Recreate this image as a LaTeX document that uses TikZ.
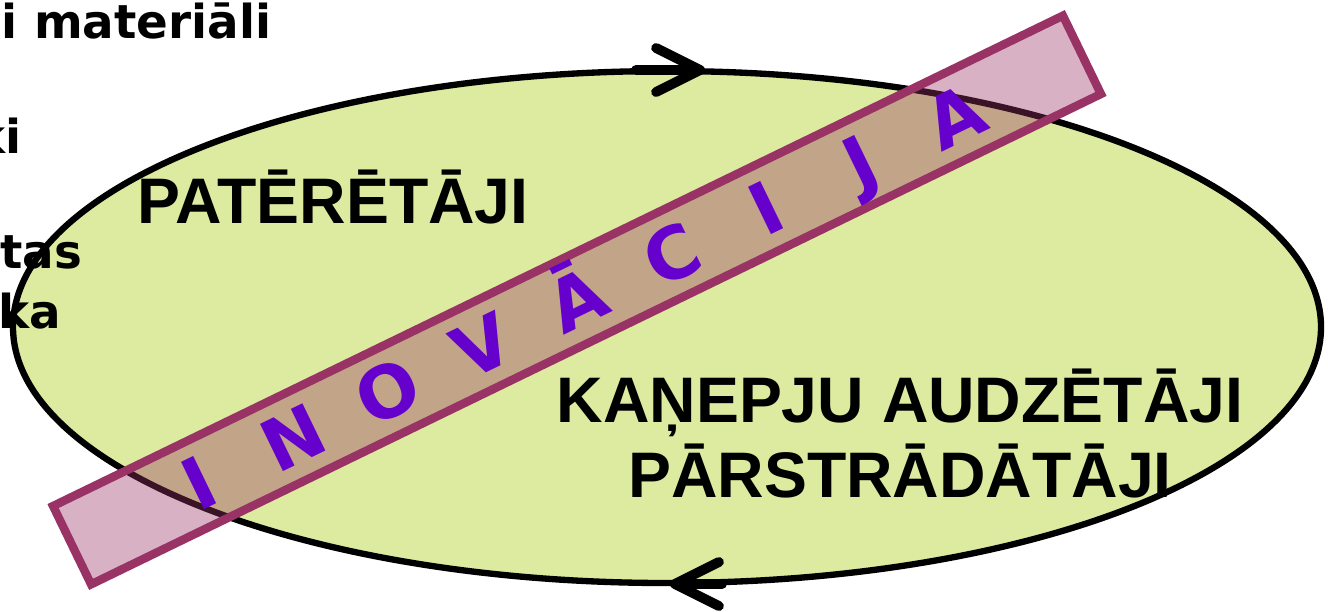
\documentclass[tikz,border=0pt]{standalone}
\usepackage{fontspec}
\setmainfont{Liberation Sans}
\newfontfamily\verdfont{DejaVu Sans}
\usepackage{tikz}
\usetikzlibrary{arrows.meta}
\usetikzlibrary{calc}

\definecolor{ellfill}{RGB}{220,235,160}
\definecolor{bandline}{RGB}{153,51,102}
\definecolor{inovtext}{RGB}{102,0,204}

\begin{document}
\begin{tikzpicture}[x=0.01cm, y=-0.01cm,
	lbl/.style={font=\fontsize{18.3pt}{20pt}\selectfont\bfseries, inner sep=0pt, anchor=base},
	side/.style={font=\verdfont\fontsize{13.3pt}{15pt}\selectfont\bfseries, inner sep=0pt, anchor=base east},
	band/.style={draw=bandline, line width=2.4pt, fill=bandline, fill opacity=0.38, rotate=25.9,
		minimum width=11.22cm, minimum height=0.87cm, inner sep=0pt},
	letter/.style={text=inovtext, font=\verdfont\fontsize{20.5pt}{22pt}\selectfont\bfseries,
		rotate=25.9, inner sep=0pt, text height=14.9pt, text depth=0pt},
	flow/.style={line width=2.8pt, line cap=round, -{Straight Barb[length=4.4mm, width=4.4mm, round]}}]
\useasboundingbox (0,0) rectangle (1328,611);

\draw[line width=1.8pt, fill=ellfill] (667,327) ellipse [x radius=654, y radius=256];

% arrows on the cycle
\coordinate (topA) at (636,70);
\coordinate (topB) at (705,70);
\coordinate (botA) at (722,584);
\coordinate (botB) at (670,584);
\draw[flow] (topA) -- (topB);
\draw[flow] (botA) -- (botB);

% cut-off words on the left
\node[side] (mat) at (272,38) {i materiāli};
\node[side] (wki) at (22,153) {ki};
\node[side] (wtas) at (83,268) {tas};
\node[side] (wka) at (62,328) {ka};

\node[lbl] (cons) at (333,223) {PATĒRĒTĀJI};
\node[lbl] (grow) at (900,422) {KAŅEPJU AUDZĒTĀJI};
\node[lbl] (proc) at (900,497) {PĀRSTRĀDĀTĀJI};

% the band
\node[band] (band) at (577,300) {};
\foreach \ch [count=\i] in {I,N,O,V,Ā,C,I,J,A}
	\node[letter] (ltr\i) at ($(band.center)+(25.9:{(\i-5)*1.05cm})$) {\ch};
\end{tikzpicture}
\end{document}
